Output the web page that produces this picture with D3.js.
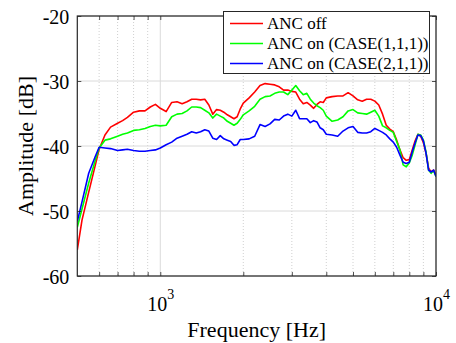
<!DOCTYPE html>
<html>
<head>
<meta charset="utf-8">
<script src="https://cdn.jsdelivr.net/npm/d3@7"></script>
<style>
  body { margin: 0; background: #fff; }
</style>
</head>
<body>
<div id="chart"></div>
<script>
// Data
const frequencies = [
    500, 520, 550, 580, 600, 630, 660, 700, 730, 760, 800, 840, 880, 920, 960,
    1000, 1050, 1100, 1150, 1200, 1250, 1300, 1350, 1400, 1450, 1500, 1550, 1600, 1650, 1700,
    1750, 1800, 1850, 1900, 1950, 2000, 2100, 2200, 2300, 2400, 2500, 2600, 2700, 2800, 2900,
    3000, 3100, 3200, 3300, 3400, 3500, 3600, 3700, 3800, 3900, 4000, 4200, 4400, 4600, 4800,
    5000, 5200, 5400, 5600, 5800, 6000, 6200, 6400, 6600, 6800, 7000, 7200, 7400, 7600, 7800,
    8000, 8200, 8400, 8600, 8800, 9000, 9200, 9400, 9600, 9800, 10000
];

const ancOff = [
    -56.0, -51.4, -47.1, -43.1, -40.5, -38.3, -37.1, -36.5, -36.1, -35.6, -34.8, -34.6, -34.6, -34.0, -33.6,
    -34.2, -34.7, -33.3, -33.2, -33.5, -33.2, -32.8, -32.8, -32.9, -32.8, -33.7, -35.1, -34.4, -34.5, -34.8,
    -35.2, -35.5, -35.8, -35.5, -34.3, -33.4, -32.6, -31.7, -30.7, -30.4, -30.5, -30.6, -30.9, -31.4, -31.4,
    -31.6, -31.7, -32.8, -33.5, -33.3, -33.7, -34.2, -33.6, -33.2, -33.3, -32.6, -32.4, -32.3, -32.3, -31.8,
    -32.3, -32.9, -33.1, -32.8, -32.8, -33.1, -33.7, -35.1, -36.8, -37.4, -37.8, -39.1, -40.6, -41.8, -42.2,
    -42.1, -40.6, -39.2, -38.2, -38.5, -39.5, -41.1, -43.4, -44.0, -43.7, -44.5
];

const ancOnCase111 = [
    -52.5, -49.7, -45.7, -42.3, -40.3, -39.1, -38.9, -38.5, -38.2, -38.0, -37.6, -37.5, -37.3, -37.0, -36.8,
    -36.9, -36.8, -35.5, -35.1, -35.0, -34.6, -34.0, -34.0, -34.1, -34.5, -34.9, -35.7, -35.1, -35.4, -35.7,
    -36.2, -36.5, -36.8, -36.5, -35.9, -35.2, -34.6, -33.9, -32.8, -32.4, -32.3, -31.9, -31.7, -31.7, -32.1,
    -31.4, -30.7, -31.5, -32.1, -31.9, -32.8, -33.4, -33.8, -34.1, -34.5, -35.4, -36.2, -36.0, -35.5, -34.6,
    -34.4, -34.9, -35.0, -35.1, -34.8, -34.5, -35.4, -36.9, -37.2, -37.6, -37.9, -39.3, -40.6, -42.9, -43.2,
    -42.6, -41.4, -39.8, -38.2, -38.3, -39.1, -40.9, -43.7, -44.2, -43.8, -44.7
];

const ancOnCase211 = [
    -51.6, -48.6, -44.2, -41.7, -40.2, -40.3, -40.4, -40.7, -40.6, -40.5, -40.7, -40.8, -40.8, -40.7, -40.6,
    -40.3, -39.8, -39.4, -38.8, -38.5, -38.2, -37.8, -38.0, -37.8, -37.5, -37.7, -38.8, -39.0, -38.4, -38.9,
    -39.1, -39.3, -39.9, -39.8, -39.0, -39.0, -38.9, -38.5, -36.7, -37.0, -36.6, -35.9, -36.0, -35.4, -35.1,
    -35.4, -34.5, -35.8, -35.8, -35.8, -36.4, -36.1, -36.3, -37.2, -37.5, -38.2, -38.3, -38.5, -37.7, -37.2,
    -37.0, -37.9, -38.0, -38.0, -37.8, -37.3, -37.6, -37.9, -38.3, -38.9, -39.4, -40.2, -41.4, -42.5, -42.7,
    -42.5, -40.9, -39.5, -38.3, -38.4, -39.2, -41.1, -43.7, -44.0, -43.7, -44.7
];

const seriesNames = ['ANC off', 'ANC on (CASE(1,1,1))', 'ANC on (CASE(2,1,1))'];
const seriesColors = ['#ff0000', '#00ff00', '#0000ff'];
const yTicks = [-60, -50, -40, -30, -20];
const xMajorTicks = [1000, 10000];
const xMinorTicks = [600, 700, 800, 900, 2000, 3000, 4000, 5000, 6000, 7000, 8000, 9000];

const svgWidth = 456;
const svgHeight = 343;

const margin = {
    top: 16,
    right: 20,
    bottom: 67,
    left: 77.3
};

const width = svgWidth - margin.left - margin.right;
const height = svgHeight - margin.top - margin.bottom;

const svg = d3.select('#chart')
    .append('svg')
    .attr('width', svgWidth)
    .attr('height', svgHeight)
    .attr('font-family', "'Liberation Serif', Tinos, 'Times New Roman', 'DejaVu Serif', serif")
    .style('font-family', "'Liberation Serif', Tinos, 'Times New Roman', 'DejaVu Serif', serif");

const chartGroup = svg.append('g')
    .attr('transform', `translate(${margin.left}, ${margin.top})`);

// Step 1: scales
// ==============================
const xScale = d3.scaleLog()
    .domain([500, 10000])
    .range([0, width]);

const yScale = d3.scaleLinear()
    .domain([-60, -20])
    .range([height, 0]);

// Step 2: grid
// ==============================
chartGroup.append('g')
    .selectAll('line')
    .data(xMinorTicks)
    .enter()
    .append('line')
    .attr('x1', d => xScale(d))
    .attr('x2', d => xScale(d))
    .attr('y1', 0)
    .attr('y2', height)
    .attr('stroke', '#c4c4c4')
    .attr('stroke-width', 0.8)
    .attr('stroke-dasharray', '1,2');

chartGroup.append('g')
    .selectAll('line')
    .data(xMajorTicks)
    .enter()
    .append('line')
    .attr('x1', d => xScale(d))
    .attr('x2', d => xScale(d))
    .attr('y1', 0)
    .attr('y2', height)
    .attr('stroke', '#dadada');

chartGroup.append('g')
    .selectAll('line')
    .data(yTicks)
    .enter()
    .append('line')
    .attr('x1', 0)
    .attr('x2', width)
    .attr('y1', d => yScale(d))
    .attr('y2', d => yScale(d))
    .attr('stroke', '#dadada');

// Step 3: curves
// ==============================
svg.append('defs').append('clipPath')
    .attr('id', 'plotClip')
    .append('rect')
    .attr('width', width)
    .attr('height', height);

const allSeries = [ancOff, ancOnCase111, ancOnCase211];

const line = d3.line()
    .x((d, i) => xScale(frequencies[i]))
    .y(d => yScale(d));

chartGroup.append('g')
    .attr('clip-path', 'url(#plotClip)')
    .selectAll('path')
    .data(allSeries)
    .enter()
    .append('path')
    .attr('d', d => line(d))
    .attr('fill', 'none')
    .attr('stroke', (d, i) => seriesColors[i])
    .attr('stroke-width', 1.6)
    .attr('stroke-linejoin', 'round');

// Step 4: axes (ticks point inward)
// ==============================
const axisColor = '#262626';

const bottomAxis = d3.axisBottom(xScale)
    .tickValues(xMajorTicks.concat(xMinorTicks))
    .tickSizeInner(-4)
    .tickSizeOuter(0)
    .tickFormat('');

const topAxis = d3.axisTop(xScale)
    .tickValues(xMajorTicks.concat(xMinorTicks))
    .tickSizeInner(-4)
    .tickSizeOuter(0)
    .tickFormat('');

const leftAxis = d3.axisLeft(yScale)
    .tickValues(yTicks)
    .tickSizeInner(-4)
    .tickSizeOuter(0)
    .tickPadding(8);

const rightAxis = d3.axisRight(yScale)
    .tickValues(yTicks)
    .tickSizeInner(-4)
    .tickSizeOuter(0)
    .tickFormat('');

const xAxisG = chartGroup.append('g')
    .attr('transform', `translate(0, ${height})`)
    .call(bottomAxis);

chartGroup.append('g').call(topAxis);

const yAxisG = chartGroup.append('g').call(leftAxis);

chartGroup.append('g')
    .attr('transform', `translate(${width}, 0)`)
    .call(rightAxis);

chartGroup.selectAll('.domain').remove();
chartGroup.selectAll('.tick line')
    .attr('stroke', axisColor)
    .attr('stroke-width', 0.8);

// axis groups carry their own font; put ours back
chartGroup.selectAll('g').attr('font-family', null);

// box round the plot
chartGroup.append('rect')
    .attr('width', width)
    .attr('height', height)
    .attr('fill', 'none')
    .attr('stroke', axisColor)
    .attr('stroke-width', 1.2);

yAxisG.selectAll('.tick text')
    .attr('dy', '0.38em')
    .attr('fill', '#000')
    .attr('font-size', 20)
    .text(d => d === 0 ? '0' : '-' + Math.abs(d));

// 10^n labels for the decades
const decadeLabels = xAxisG.selectAll('.tick')
    .filter(d => xMajorTicks.includes(d))
    .append('text')
    .attr('y', 34.5)
    .attr('text-anchor', 'middle')
    .attr('fill', '#000')
    .attr('font-size', 20);

decadeLabels.append('tspan').text('10');
decadeLabels.append('tspan')
    .attr('dy', -12)
    .attr('font-size', 14)
    .text(d => Math.round(Math.log10(d)));

// Step 5: axis titles
// ==============================
svg.append('text')
    .attr('x', margin.left + width / 2)
    .attr('y', 337)
    .attr('text-anchor', 'middle')
    .attr('font-size', 22)
    .text('Frequency [Hz]');

svg.append('text')
    .attr('transform', `translate(33, ${margin.top + height / 2}) rotate(-90)`)
    .attr('text-anchor', 'middle')
    .attr('font-size', 22)
    .text('Amplitude [dB]');

// Step 6: legend
// ==============================
const legend = svg.append('g')
    .attr('transform', 'translate(223.5, 11.5)');

legend.append('rect')
    .attr('width', 206)
    .attr('height', 62)
    .attr('fill', '#fff')
    .attr('stroke', axisColor)
    .attr('stroke-width', 1);

const legendItems = legend.selectAll('.legendItem')
    .data(seriesNames)
    .enter()
    .append('g')
    .classed('legendItem', true)
    .attr('transform', (d, i) => `translate(0, ${12 + i * 20})`);

legendItems.append('line')
    .attr('x1', 6.5)
    .attr('x2', 39.5)
    .attr('stroke', (d, i) => seriesColors[i])
    .attr('stroke-width', 1.6);

legendItems.append('text')
    .attr('x', 43.5)
    .attr('y', 5.8)
    .attr('font-size', 17)
    .text(d => d);
</script>
</body>
</html>
